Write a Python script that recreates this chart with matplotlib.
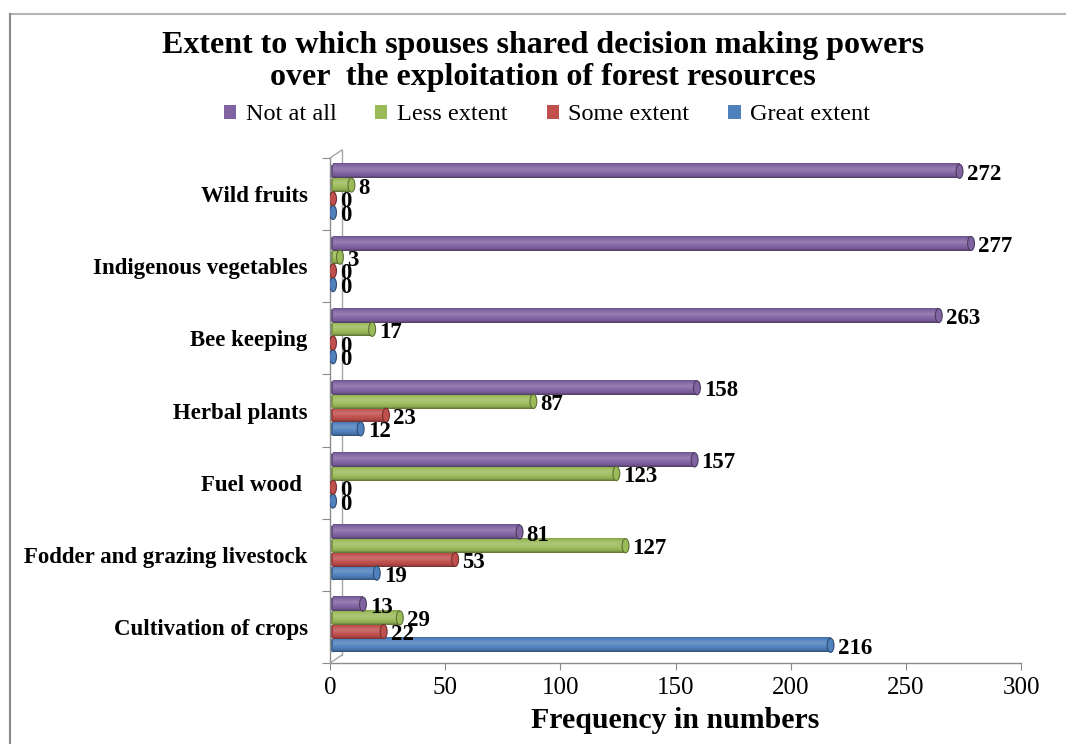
import numpy as np
import matplotlib
matplotlib.use("Agg")
import matplotlib.pyplot as plt
import matplotlib.colors as mcolors
from matplotlib.patches import Ellipse, Patch
from matplotlib.lines import Line2D
from matplotlib.transforms import offset_copy

# bottom to top, as drawn on the y axis
categories = ["Cultivation of crops", "Fodder and grazing livestock", "Fuel wood ",
              "Herbal plants", "Bee keeping", "Indigenous vegetables", "Wild fruits"]
series = ["Great extent", "Some extent", "Less extent", "Not at all"]
great_extent = [216, 19, 0, 12, 0, 0, 0]
some_extent = [22, 53, 0, 23, 0, 0, 0]
less_extent = [29, 127, 123, 87, 17, 3, 8]
not_at_all = [13, 81, 157, 158, 263, 277, 272]
colors = ["#4F81BD", "#C0504D", "#9BBB59", "#8064A2"]
xticks = [0, 50, 100, 150, 200, 250, 300]

SERIF = ["Liberation Serif", "DejaVu Serif"]
plt.rcParams["font.family"] = SERIF

W, H = 1066, 744
fig = plt.figure(figsize=(W / 100, H / 100), dpi=100)
ax = fig.add_axes([330 / W, (H - 663) / H, 691 / W, (663 - 158) / H])

bar_h = 0.195
step = 0.19
shift = 0.03
cap_w = 3.0  # end-cap width in data units (~7 px)


def shaded(color, n=48):
    """Vertical RGBA gradient giving a cylinder look."""
    base = np.array(mcolors.to_rgb(color))
    t = np.linspace(0, 1, n)
    f = np.interp(t, [0, 0.15, 0.6, 0.85, 1.0], [0.6, 0.9, 1.18, 1.03, 0.85])
    rgb = np.where(f[:, None] <= 1, base * f[:, None],
                   base + (1 - base) * (f[:, None] - 1))
    rgba = np.concatenate([np.clip(rgb, 0, 1), np.ones((n, 1))], axis=1)
    return rgba[:, None, :]


def darker(color, k):
    return tuple(np.array(mcolors.to_rgb(color)) * k)


bar_tr = offset_copy(ax.transData, fig=fig, x=3, y=0, units="dots")
values = [great_extent, some_extent, less_extent, not_at_all]
for s, (vals, col) in enumerate(zip(values, colors)):
    grad = shaded(col)
    for i, v in enumerate(vals):
        yc = i + shift + (s - 1.5) * step
        y0, y1 = yc - bar_h / 2, yc + bar_h / 2
        ax.add_patch(Ellipse((0, yc), cap_w, bar_h, facecolor=darker(col, 0.8),
                             edgecolor="none", transform=bar_tr, zorder=2))
        if v > 0:
            ax.imshow(grad, extent=[0, v, y0, y1], origin="lower", aspect="auto",
                      interpolation="bilinear", transform=bar_tr, zorder=3)
        ax.add_patch(Ellipse((v, yc), cap_w, bar_h, facecolor=col,
                             edgecolor=darker(col, 0.6), linewidth=0.8,
                             transform=bar_tr, zorder=4))
        ax.annotate(f"{v}", xy=(v, yc), xytext=(10, -3), textcoords="offset pixels",
                    ha="left", va="center", fontsize=16.5, fontweight="bold",
                    color="black", zorder=5)

ax.set_xlim(0, 300)
ax.set_ylim(-0.5, len(categories) - 0.5)

# axes styling
for side in ["top", "right"]:
    ax.spines[side].set_visible(False)
for side in ["left", "bottom"]:
    ax.spines[side].set_color("#8c8c8c")
    ax.spines[side].set_linewidth(1.0)

ax.set_xticks(xticks)
ax.set_xticklabels([str(t) for t in xticks], fontsize=18)
ax.tick_params(axis="x", direction="out", length=5, color="#8c8c8c", pad=5)
ax.set_yticks(np.arange(-0.5, len(categories), 1))
ax.set_yticklabels([])
ax.tick_params(axis="y", which="major", direction="out", length=6, color="#8c8c8c")
ax.set_yticks(np.arange(len(categories)), minor=True)
ax.set_yticklabels(categories, minor=True, fontsize=16.5, fontweight="bold")
ax.tick_params(axis="y", which="minor", length=0, pad=16)

ax.set_xlabel("Frequency in numbers", fontsize=21.5, fontweight="bold", labelpad=6)

# back wall of the 3-D plot area
wall_tr = offset_copy(ax.transData, fig=fig, x=12, y=8, units="dots")
top = len(categories) - 0.5
ax.add_line(Line2D([0, 0], [-0.5, top], color="#a6a6a6", lw=1.0,
                   transform=wall_tr, clip_on=False, zorder=1))
for yy in (-0.5, top):
    fig.add_artist(Line2D(
        [ax.transData.transform((0, yy))[0] / W, wall_tr.transform((0, yy))[0] / W],
        [ax.transData.transform((0, yy))[1] / H, wall_tr.transform((0, yy))[1] / H],
        color="#a6a6a6", lw=1.0))

# title and legend
fig.text(543 / W, 1 - 45 / H, "Extent to which spouses shared decision making powers",
         ha="center", va="center", fontsize=23, fontweight="bold")
fig.text(543 / W, 1 - 77 / H, "over  the exploitation of forest resources",
         ha="center", va="center", fontsize=23, fontweight="bold")

handles = [Patch(facecolor=c, edgecolor="none") for c in colors[::-1]]
fig.legend(handles, series[::-1], loc="center", bbox_to_anchor=(547 / W, 1 - 115 / H),
           ncol=4, frameon=False, fontsize=17.5, handlelength=0.5, handleheight=0.5,
           handletextpad=0.4, columnspacing=1.6)

# outer chart border (top and left edges)
fig.add_artist(Line2D([10 / W, 1], [1 - 14 / H, 1 - 14 / H], color="#b5b5b5", lw=1.5))
fig.add_artist(Line2D([10 / W, 10 / W], [0, 1 - 14 / H], color="#8a8a8a", lw=1.5))

fig.savefig("out.png", dpi=100, facecolor="white")
